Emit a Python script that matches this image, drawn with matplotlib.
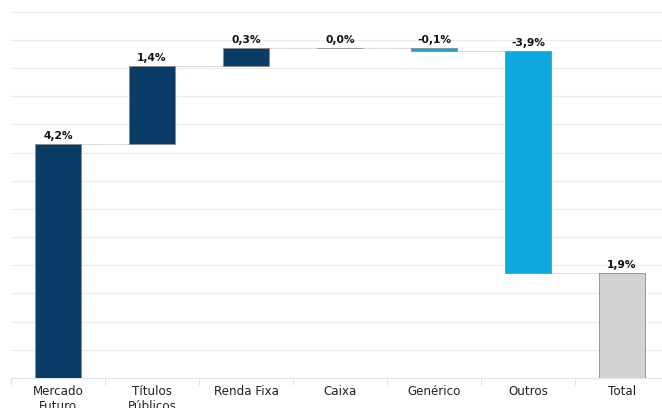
import matplotlib.pyplot as plt
import numpy as np

categorias = ['Mercado\nFuturo', 'Títulos\nPúblicos', 'Renda Fixa', 'Caixa', 'Genérico', 'Outros', 'Total']
valores = [4.16, 1.38, 0.32, 0.0, -0.06, -3.94]
total = 1.86

azul_esc = '#0a3c68'
azul_cla = '#0ea8de'
cinza = '#d3d3d3'

def fmt(v):
    return ('%.1f%%' % v).replace('.', ',')

fig = plt.figure(figsize=(6.62, 4.08), dpi=100)
ax = fig.add_axes([11/662, 30/408, 658/662, 378/408])

x = np.arange(len(categorias))
larg = 0.48
acum = np.concatenate([[0], np.cumsum(valores)])
base = acum[:-1]
cores = []
for v in valores:
    if v > 0:
        cores.append(azul_esc)
    elif v < 0:
        cores.append(azul_cla)
    else:
        cores.append(cinza)

alturas = list(valores) + [total]
bases = list(base) + [0]
cores.append(cinza)

ax.bar(x, alturas, bottom=bases, width=larg, color=cores,
       edgecolor='#8a8a8a', linewidth=0.6, zorder=3)

# linhas de ligação
nivel = list(acum[1:])
for i in range(len(categorias) - 1):
    ax.plot([x[i] + larg/2, x[i+1] - larg/2], [nivel[i], nivel[i]],
            ls=(0, (1, 1)), color='#b0b0b0', lw=0.6, zorder=2)

# rótulos
for i in range(len(categorias)):
    topo = max(bases[i], bases[i] + alturas[i])
    ax.text(x[i], topo + 0.05, fmt(alturas[i]), ha='center', va='bottom',
            fontsize=7.7, fontweight='bold', color='#111111')

ax.set_xlim(-0.5, len(categorias) - 0.5)
ax.set_ylim(0, 6.71)
ax.set_yticks(np.arange(0.5, 6.6, 0.5))
ax.yaxis.grid(True, color='#ececec', lw=0.8, zorder=0)
ax.tick_params(axis='y', length=0, labelleft=False)
ax.set_xticks(x)
ax.set_xticklabels(categorias, fontsize=8.6, color='#222222')
ax.set_xticks(np.arange(-0.5, len(categorias), 1), minor=True)
ax.tick_params(axis='x', which='major', length=0, pad=5)
ax.tick_params(axis='x', which='minor', length=5, color='#dce4ee', width=0.8)
for s in ['top', 'right', 'left']:
    ax.spines[s].set_visible(False)
ax.spines['bottom'].set_color('#dce4ee')
ax.spines['bottom'].set_linewidth(0.8)

fig.savefig('out.png', dpi=100)
